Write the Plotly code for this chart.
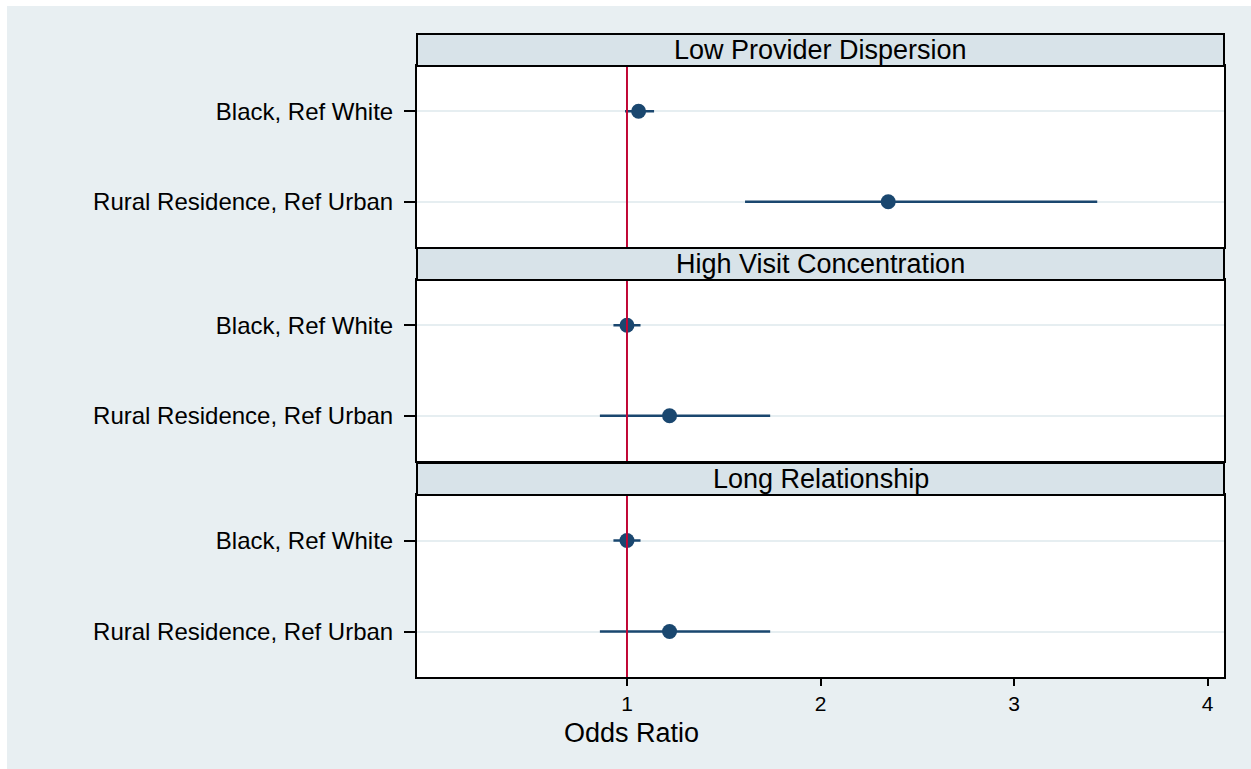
import plotly.graph_objects as go

# ---------------- data ----------------
panels = ["Low Provider Dispersion", "High Visit Concentration", "Long Relationship"]
categories = ["Black, Ref White", "Rural Residence, Ref Urban"]
odds_ratio = [[1.06, 2.35], [1.00, 1.22], [1.00, 1.22]]
ci_low = [[0.99, 1.61], [0.93, 0.86], [0.93, 0.86]]
ci_high = [[1.14, 3.43], [1.07, 1.74], [1.07, 1.74]]
x_ticks = [1, 2, 3, 4]
ref_value = 1
x_title = "Odds Ratio"

# ---------------- style ----------------
FONT = "Liberation Sans, Arial, sans-serif"
NAVY = "#1a476f"
RED = "#c10534"
BG = "#e8eff2"
STRIP = "#d8e3e9"
GRID = "#e6eef1"

W, H = 1251, 769
L, R, T, B = 417, 27, 34, 92
plot_h = H - T - B
plot_w = W - L - R

def py(pix):  # pixel y (from top) -> paper y
    return (H - B - pix) / plot_h

def px(pix):
    return (pix - L) / plot_w

# panel pixel positions (strip top, plot top, plot bottom)
panel_pix = [(34, 66, 247), (248, 280, 461), (463, 495, 677)]

fig = go.Figure()
shapes = []
annotations = []

for i, name in enumerate(panels):
    k = "" if i == 0 else str(i + 1)
    xa = "x" + k
    ya = "y" + k
    lo = [o - l for o, l in zip(odds_ratio[i], ci_low[i])]
    hi = [h - o for o, h in zip(odds_ratio[i], ci_high[i])]
    fig.add_trace(go.Scatter(
        x=odds_ratio[i], y=categories, mode="markers",
        marker=dict(color=NAVY, size=15, symbol="circle"),
        error_x=dict(type="data", symmetric=False, array=hi, arrayminus=lo,
                     color=NAVY, thickness=2.5, width=0),
        xaxis=xa, yaxis=ya, showlegend=False,
    ))
    s_top, p_top, p_bot = panel_pix[i]
    bottom = (i == len(panels) - 1)
    fig.layout["xaxis" + k] = dict(
        domain=[0, 1], anchor=ya, range=[-0.085, 4.085],
        tickvals=x_ticks, ticks="outside" if bottom else "", ticklen=7, tickwidth=1.5,
        tickcolor="black", showticklabels=bottom, showgrid=False, zeroline=False,
        showline=True, mirror=True, linecolor="black", linewidth=2,
        tickfont=dict(family=FONT, size=21, color="black"),
        matches=None if i == 0 else "x",
    )
    fig.layout["yaxis" + k] = dict(
        domain=[py(p_bot), py(p_top)], anchor=xa, type="category",
        categoryorder="array", categoryarray=categories, range=[1.5, -0.5],
        ticks="outside", ticklen=11, tickwidth=1.5, tickcolor="black",
        showgrid=True, gridcolor=GRID, gridwidth=2, zeroline=False,
        showline=True, mirror=True, linecolor="black", linewidth=2,
        tickfont=dict(family=FONT, size=24, color="black"),
        ticklabelstandoff=6,
    )
    # reference line
    shapes.append(dict(type="line", xref=xa, yref=ya + " domain",
                       x0=ref_value, x1=ref_value, y0=0, y1=1,
                       line=dict(color=RED, width=2), layer="above"))
    # strip
    shapes.append(dict(type="rect", xref="paper", yref="paper",
                       x0=0, x1=1, y0=py(p_top), y1=py(s_top),
                       fillcolor=STRIP, line=dict(color="black", width=2),
                       layer="above"))
    annotations.append(dict(text=name, xref="paper", yref="paper",
                            x=0.5, y=(py(p_top) + py(s_top)) / 2,
                            xanchor="center", yanchor="middle", showarrow=False,
                            font=dict(family=FONT, size=27, color="black")))

# white outer border (top and left)
shapes.append(dict(type="rect", xref="paper", yref="paper",
                   x0=px(0), x1=px(W), y0=py(6), y1=py(0),
                   fillcolor="white", line=dict(width=0), layer="below"))
shapes.append(dict(type="rect", xref="paper", yref="paper",
                   x0=px(0), x1=px(7), y0=py(H), y1=py(0),
                   fillcolor="white", line=dict(width=0), layer="below"))

annotations.append(dict(text=x_title, xref="paper", yref="paper",
                        x=px(631), y=py(733), xanchor="center", yanchor="middle",
                        showarrow=False, font=dict(family=FONT, size=27, color="black")))

fig.update_layout(
    width=W, height=H,
    margin=dict(l=L, r=R, t=T, b=B),
    paper_bgcolor=BG, plot_bgcolor="white",
    shapes=shapes, annotations=annotations,
    font=dict(family=FONT, color="black"),
)

fig.write_html("out.html")
